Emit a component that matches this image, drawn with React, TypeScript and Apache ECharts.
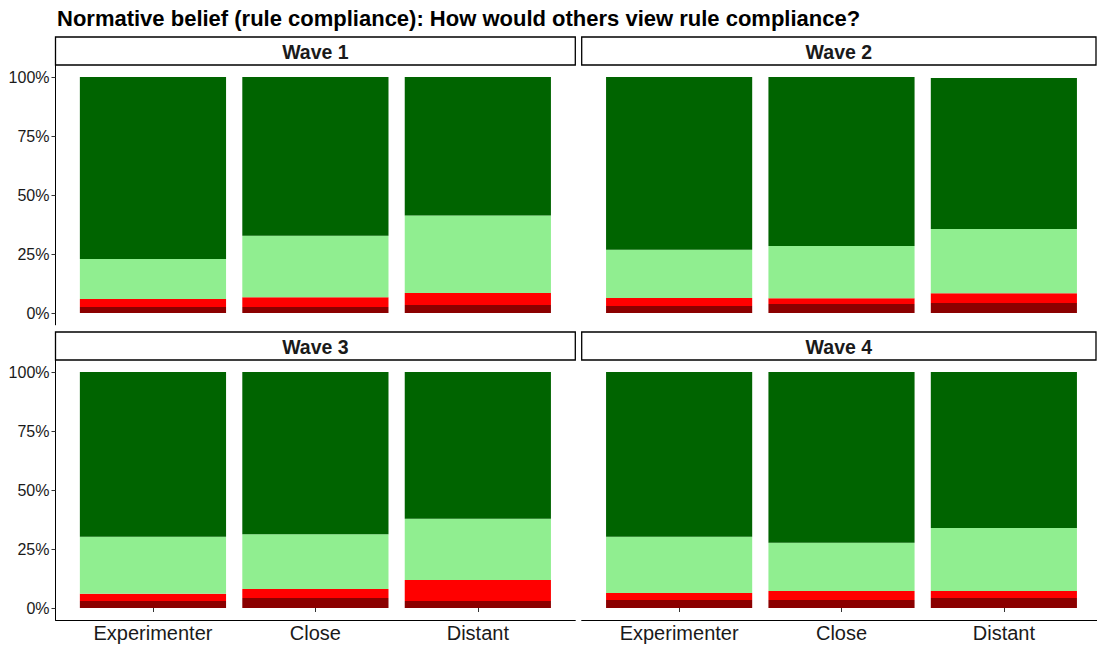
import React, { useEffect, useRef } from "react";
import * as echarts from "echarts";

const titleText = "Normative belief (rule compliance): How would others view rule compliance?";
const waves = ["Wave 1", "Wave 2", "Wave 3", "Wave 4"];
const categories = ["Experimenter", "Close", "Distant"];
const yTicks = [0, 25, 50, 75, 100];

// one row per wave, one value per category (percent), stacked bottom -> top
const levelNames = ["Very negative", "Negative", "Positive", "Very positive"];
const veryNegative = [
  [2.5, 2.5, 3.4],
  [3.0, 3.8, 4.2],
  [3.0, 4.2, 3.0],
  [3.4, 3.4, 4.2],
];
const negative = [
  [3.4, 4.2, 5.1],
  [3.4, 2.5, 4.2],
  [3.0, 3.8, 8.9],
  [3.0, 3.8, 3.0],
];
const positive = [
  [17.0, 26.0, 32.8],
  [20.4, 22.1, 27.2],
  [24.2, 23.3, 25.9],
  [23.8, 20.4, 26.7],
];
const veryPositive = [
  [77.1, 67.3, 58.7],
  [73.2, 71.6, 64.0],
  [69.8, 68.7, 62.2],
  [69.8, 72.4, 66.1],
];
const levelColors = ["#8B0000", "#FF0000", "#90EE90", "#006400"];

const FONT = "'Liberation Sans', Arial, Helvetica, sans-serif";

export default function App() {
  const ref = useRef<HTMLDivElement>(null);
  useEffect(() => {
    if (!ref.current) return;
    const chart = echarts.init(ref.current, undefined, { renderer: "svg" });
    const levels = [veryNegative, negative, positive, veryPositive];

    const panelLeft = [55.5, 581.7];
    const panelWidth = [519.8, 519.6];
    const outerTop = [65.2, 360.2];
    const outerHeight = 259.6;
    const innerTop = [77, 372];
    const innerHeight = 236;
    const stripTop = [37, 332];
    const stripHeight = 28;
    const stripRight = [575.3, 1096];

    const grids: any[] = [];
    const xAxes: any[] = [];
    const yAxes: any[] = [];
    const series: any[] = [];
    const graphics: any[] = [];

    // inner grids (bars)
    for (let i = 0; i < 4; i++) {
      const col = i % 2;
      const row = Math.floor(i / 2);
      const band = panelWidth[col] / 3.2;
      const left = panelLeft[col] + 0.1 * band;
      grids.push({ left, top: innerTop[row], width: 3 * band, height: innerHeight });
      xAxes.push({
        type: "category",
        gridIndex: i,
        data: categories,
        offset: 11.8,
        axisLine: { show: false },
        axisTick: { show: row === 1, alignWithLabel: true, length: 4, lineStyle: { color: "#333", width: 1 } },
        axisLabel: { show: row === 1, fontSize: 20, color: "#1a1a1a", fontFamily: FONT, margin: 3 },
        splitLine: { show: false },
      });
      yAxes.push({
        type: "value",
        gridIndex: i,
        min: 0,
        max: 100,
        interval: 25,
        offset: col === 0 ? left - panelLeft[col] : 0,
        axisLine: { show: false },
        axisTick: { show: col === 0, length: 4, lineStyle: { color: "#333", width: 1 } },
        axisLabel: {
          show: col === 0,
          fontSize: 16,
          color: "#1a1a1a",
          fontFamily: FONT,
          margin: 6,
          formatter: (v: number) => (yTicks.includes(v) ? v + "%" : ""),
        },
        splitLine: { show: false },
      });
      for (let k = 0; k < 4; k++) {
        series.push({
          name: levelNames[k],
          type: "bar",
          xAxisIndex: i,
          yAxisIndex: i,
          stack: "p" + i,
          barWidth: "90%",
          data: levels[k][i],
          itemStyle: { color: levelColors[k] },
          silent: true,
        });
      }
    }
    // outer grids (axis lines spanning expanded panel)
    for (let i = 0; i < 4; i++) {
      const col = i % 2;
      const row = Math.floor(i / 2);
      grids.push({ left: panelLeft[col], top: outerTop[row], width: panelWidth[col], height: outerHeight });
      xAxes.push({
        type: "value",
        gridIndex: 4 + i,
        min: 0,
        max: 1,
        axisLine: { show: row === 1, onZero: false, lineStyle: { color: "#000", width: 1 } },
        axisTick: { show: false },
        axisLabel: { show: false },
        splitLine: { show: false },
      });
      yAxes.push({
        type: "value",
        gridIndex: 4 + i,
        min: 0,
        max: 1,
        axisLine: { show: col === 0, onZero: false, lineStyle: { color: "#000", width: 1 } },
        axisTick: { show: false },
        axisLabel: { show: false },
        splitLine: { show: false },
      });
      // strip
      const sx = panelLeft[col];
      const sw = stripRight[col] - sx;
      graphics.push({
        type: "rect",
        shape: { x: sx, y: stripTop[row], width: sw, height: stripHeight },
        style: { fill: "#fff", stroke: "#000", lineWidth: 1.3 },
        silent: true,
      });
      graphics.push({
        type: "text",
        x: sx + sw / 2,
        y: stripTop[row] + stripHeight / 2 + 1,
        style: {
          text: waves[i],
          fill: "#1a1a1a",
          font: "bold 19.5px " + FONT,
          textAlign: "center",
          textVerticalAlign: "middle",
        },
        silent: true,
      });
    }

    chart.setOption({
      animation: false,
      backgroundColor: "#ffffff",
      title: {
        text: titleText,
        left: 57,
        top: 7,
        padding: 0,
        textStyle: { fontSize: 22, fontWeight: "bold", color: "#000", fontFamily: FONT },
      },
      grid: grids,
      xAxis: xAxes,
      yAxis: yAxes,
      series,
      graphic: graphics,
    });
    return () => chart.dispose();
  }, []);
  return (
    <div
      ref={ref}
      style={{ position: "fixed", left: 0, top: 0, width: 1097, height: 646, background: "#fff" }}
    />
  );
}
